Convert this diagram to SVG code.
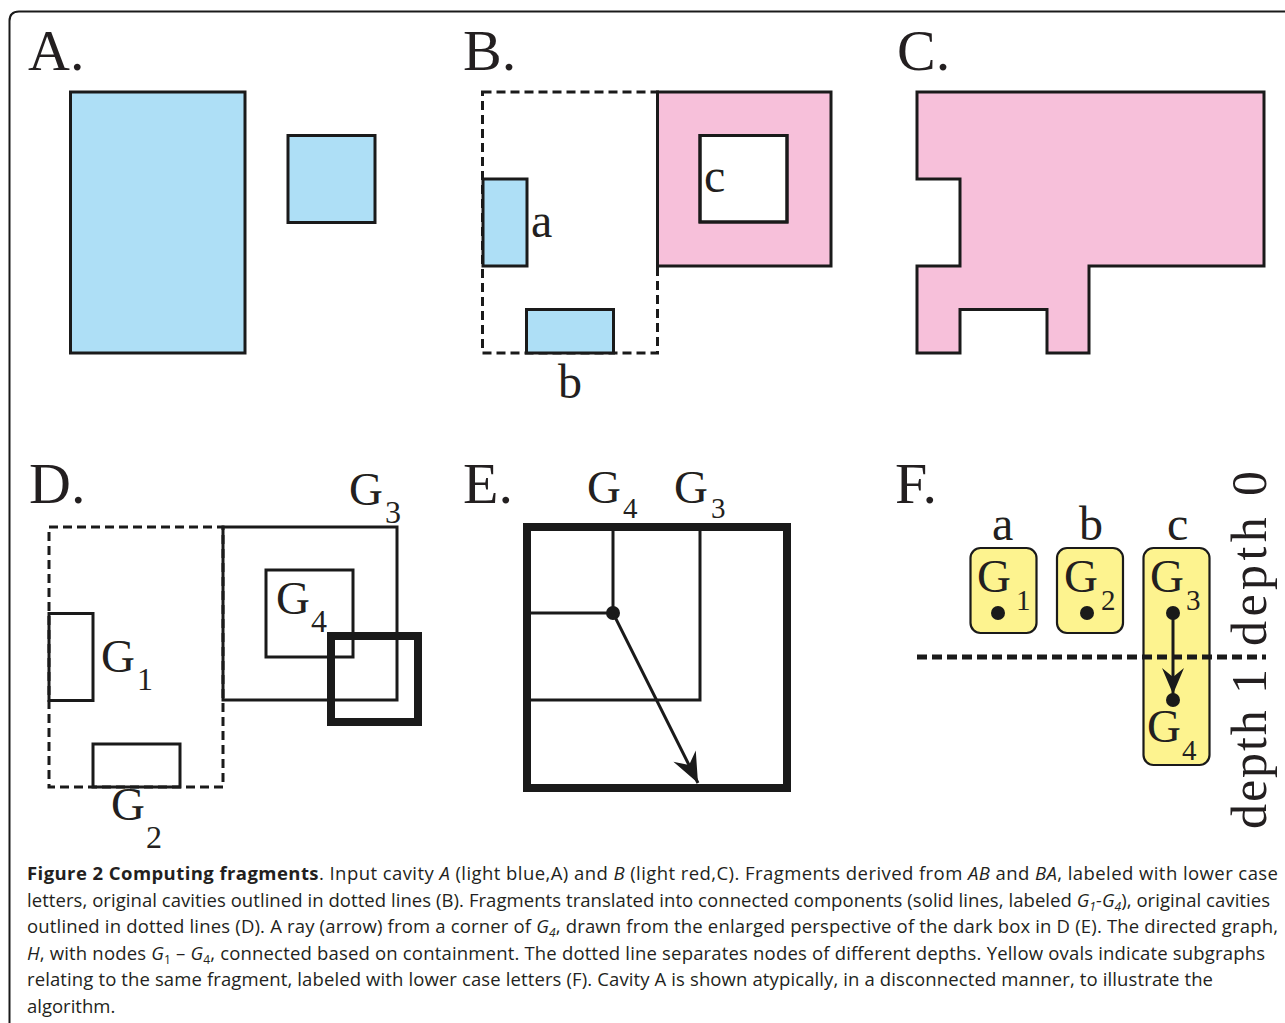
<svg xmlns="http://www.w3.org/2000/svg" width="1285" height="1023" viewBox="0 0 1285 1023">
<style>
.bg{fill:#ffffff}
.frame{fill:none;stroke:#1a1a1a;stroke-width:2}
.lbl{font-family:"Liberation Serif","Times New Roman",serif;font-size:58px;fill:#231f20}
.let{font-family:"Liberation Serif","Times New Roman",serif;font-size:48px;fill:#231f20}
.g{font-family:"Liberation Serif","Times New Roman",serif;font-size:47px;fill:#231f20}
.sub{font-family:"Liberation Serif","Times New Roman",serif;font-size:32px;fill:#231f20}
.sub2{font-family:"Liberation Serif","Times New Roman",serif;font-size:29px;fill:#231f20}
.dep{font-family:"Liberation Serif","Times New Roman",serif;font-size:50px;fill:#231f20}
.blue{fill:#aedff6;stroke:#1a1a1a;stroke-width:3}
.pink{fill:#f7c0da;stroke:#1a1a1a;stroke-width:3}
.hole{fill:none;stroke:#1a1a1a;stroke-width:3}
.dash{fill:none;stroke:#1a1a1a;stroke-width:3;stroke-dasharray:9 5}
.thin{fill:none;stroke:#1a1a1a;stroke-width:3}
.thick{fill:none;stroke:#1a1a1a;stroke-width:8}
.yel{fill:#fdf38f;stroke:#1a1a1a;stroke-width:2.2}
.dot{fill:#1a1a1a}
.edge{fill:none;stroke:#1a1a1a;stroke-width:3}
.sep{fill:none;stroke:#1a1a1a;stroke-width:5;stroke-dasharray:10 5}
.cap{font-family:"Open Sans","Noto Sans","Liberation Sans",sans-serif;font-size:18.5px;fill:#231f20}
.i{font-style:italic}
.cs{font-size:12px}
</style>
<defs>
<marker id="arr" markerUnits="userSpaceOnUse" viewBox="-32 -15 34 30" markerWidth="34" markerHeight="30" refX="0" refY="0" orient="auto">
<path d="M0,0 L-30,-12.5 L-20,0 L-30,12.5 Z" fill="#1a1a1a"/>
</marker>
<marker id="arr2" markerUnits="userSpaceOnUse" viewBox="-28 -13 30 26" markerWidth="30" markerHeight="26" refX="0" refY="0" orient="auto">
<path d="M0,0 L-26,-11 L-17,0 L-26,11 Z" fill="#1a1a1a"/>
</marker>
</defs>
<rect class="bg" x="0" y="0" width="1285" height="1023"/>
<path class="frame" d="M9.5,1030 V21 Q9.5,11.5 19,11.5 H1290"/>

<g id="panelA">
<text class="lbl" x="28" y="70">A.</text>
<rect id="A-large" class="blue" x="70.5" y="92" width="174.5" height="261"/>
<rect id="A-small" class="blue" x="288" y="135.5" width="87" height="87"/>
</g>

<g id="panelB">
<text class="lbl" x="463" y="70">B.</text>
<rect id="B-outline" class="dash" x="482.5" y="92" width="175" height="261"/>
<path id="B-c" class="pink" fill-rule="evenodd" d="M657.5,92 H831 V266 H657.5 Z M700,135.5 V222 H787 V135.5 Z"/>
<rect class="hole" x="700" y="135.5" width="87" height="86.5"/>
<rect id="B-a" class="blue" x="483" y="179" width="44" height="87"/>
<rect id="B-b" class="blue" x="526.5" y="309.5" width="87" height="43.5"/>
<text class="let" x="531" y="237">a</text>
<text class="let" x="558" y="398">b</text>
<text class="let" x="704" y="192">c</text>
</g>

<g id="panelC">
<text class="lbl" x="897" y="70">C.</text>
<path id="C-shape" class="pink" d="M917,92 H1264 V266 H1089 V353 H1047 V309.5 H960 V353 H917 V266 H960 V179 H917 Z"/>
</g>

<g id="panelD">
<text class="lbl" x="29" y="503">D.</text>
<rect id="D-outline" class="dash" x="49" y="527" width="174" height="260"/>
<rect id="D-G3" class="thin" x="223" y="527" width="174" height="173"/>
<rect id="D-G4" class="thin" x="266" y="570" width="87" height="87"/>
<rect id="D-G1" class="thin" x="49" y="613.5" width="44" height="87"/>
<rect id="D-G2" class="thin" x="93" y="744" width="87" height="43"/>
<rect id="D-darkbox" class="thick" x="331" y="636" width="87" height="86"/>
<text class="g" x="101" y="672">G</text><text class="sub" x="137" y="690">1</text>
<text class="g" x="111" y="820">G</text><text class="sub" x="146" y="848">2</text>
<text class="g" x="349" y="505">G</text><text class="sub" x="385" y="523">3</text>
<text class="g" x="276" y="614">G</text><text class="sub" x="311" y="632">4</text>
</g>

<g id="panelE">
<text class="lbl" x="463" y="503">E.</text>
<rect id="E-box" class="thick" x="527" y="527" width="260" height="261"/>
<path id="E-G4" class="thin" d="M613,531 V613 H531"/>
<path id="E-G3" class="thin" d="M700,531 V700 H531"/>
<text class="g" x="587" y="503">G</text><text class="sub2" x="623" y="518">4</text>
<text class="g" x="674" y="503">G</text><text class="sub2" x="711" y="518">3</text>
<circle class="dot" cx="613" cy="613" r="7"/>
</g>

<g id="panelF">
<text class="lbl" x="895" y="503">F.</text>
<text class="let" x="992" y="540">a</text>
<text class="let" x="1079" y="540">b</text>
<text class="let" x="1167" y="540">c</text>
<g id="node-a"><rect class="yel" x="970.5" y="548" width="66" height="85" rx="10"/></g>
<g id="node-b"><rect class="yel" x="1057" y="548" width="66" height="85" rx="10"/></g>
<g id="node-c"><rect class="yel" x="1143.5" y="548" width="66" height="217" rx="10"/></g>
<path id="F-sep" class="sep" d="M917,657 H1266"/>
<g id="G1"><text class="g" x="977" y="592">G</text><text class="sub2" x="1016" y="610">1</text><circle class="dot" cx="998" cy="613" r="7"/></g>
<g id="G2"><text class="g" x="1064" y="592">G</text><text class="sub2" x="1101" y="610">2</text><circle class="dot" cx="1087" cy="613" r="7"/></g>
<g id="G3"><text class="g" x="1150" y="592">G</text><text class="sub2" x="1186" y="610">3</text><circle class="dot" cx="1173" cy="613" r="7"/></g>
<g id="G4"><text class="g" x="1147" y="742">G</text><text class="sub2" x="1182" y="760">4</text><circle class="dot" cx="1173" cy="700" r="7"/></g>
<text class="dep" transform="translate(1266,646) rotate(-90)" textLength="175" lengthAdjust="spacing">depth 0</text>
<text class="dep" transform="translate(1266,829) rotate(-90)" textLength="160" lengthAdjust="spacing">depth 1</text>
</g>

<g id="connectors">
<path id="E-ray" class="edge" d="M613,613 L698,783" marker-end="url(#arr)"/>
<path id="F-edge" class="edge" d="M1173,613 V694" marker-end="url(#arr2)"/>
</g>

<g id="caption">
<text class="cap" x="27" y="880" textLength="1251"><tspan font-weight="bold">Figure 2 Computing fragments</tspan>. Input cavity <tspan class="i">A</tspan> (light blue,A) and <tspan class="i">B</tspan> (light red,C). Fragments derived from <tspan class="i">AB</tspan> and <tspan class="i">BA</tspan>, labeled with lower case</text>
<text class="cap" x="27" y="906.6" textLength="1243">letters, original cavities outlined in dotted lines (B). Fragments translated into connected components (solid lines, labeled <tspan class="i">G</tspan><tspan class="i cs" dy="4">1</tspan><tspan class="i" dy="-4">-G</tspan><tspan class="i cs" dy="4">4</tspan><tspan dy="-4">), original cavities</tspan></text>
<text class="cap" x="27" y="933.2" textLength="1251">outlined in dotted lines (D). A ray (arrow) from a corner of <tspan class="i">G</tspan><tspan class="i cs" dy="4">4</tspan><tspan dy="-4">, drawn from the enlarged perspective of the dark box in D (E). The directed graph,</tspan></text>
<text class="cap" x="27" y="959.8" textLength="1238"><tspan class="i">H</tspan>, with nodes <tspan class="i">G</tspan><tspan class="cs" dy="4">1</tspan><tspan dy="-4"> – </tspan><tspan class="i">G</tspan><tspan class="cs" dy="4">4</tspan><tspan dy="-4">, connected based on containment. The dotted line separates nodes of different depths. Yellow ovals indicate subgraphs</tspan></text>
<text class="cap" x="27" y="986.4" textLength="1186">relating to the same fragment, labeled with lower case letters (F). Cavity A is shown atypically, in a disconnected manner, to illustrate the</text>
<text class="cap" x="27" y="1013">algorithm.</text>
</g>
</svg>
